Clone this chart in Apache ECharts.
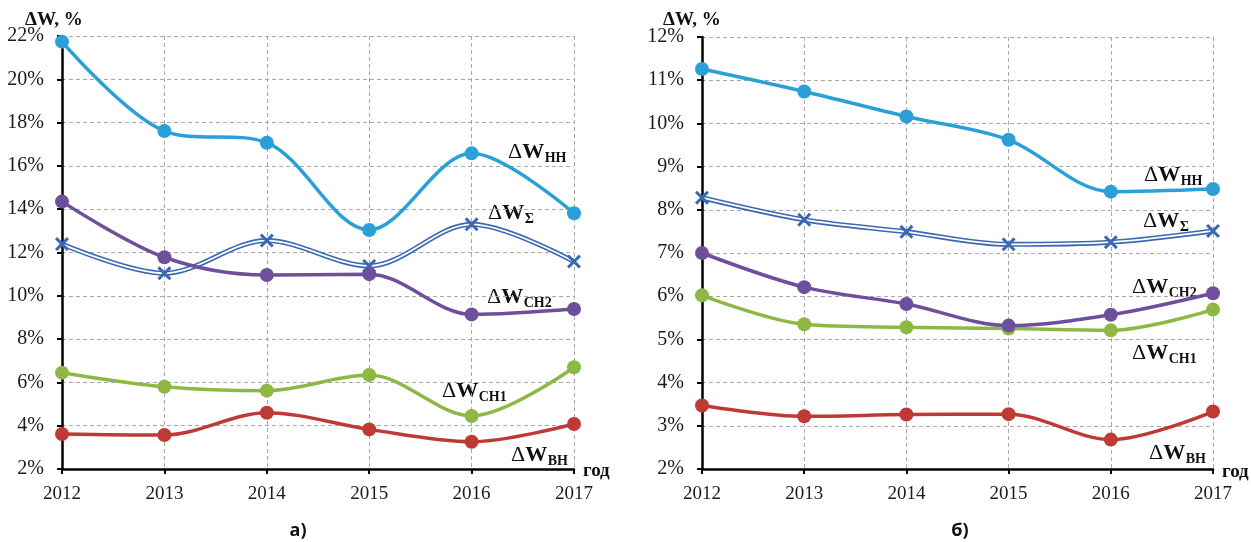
<!DOCTYPE html>
<html>
<head>
<meta charset="utf-8">
<script src="https://cdn.jsdelivr.net/npm/echarts@6/dist/echarts.min.js"></script>
<style>html,body{margin:0;padding:0;background:#fff;}#c{width:1251px;height:542px;}</style>
</head>
<body>
<div id="c"></div>
<script>
// ---- data ----
const years = ['2012', '2013', '2014', '2015', '2016', '2017'];
// chart a)
const nnA  = [21.74, 17.61, 17.07, 13.04, 16.58, 13.81];
const sumA = [12.39, 11.04, 12.55, 11.38, 13.30, 11.58];
const ch2A = [14.35, 11.78, 10.96, 11.00, 9.14, 9.39];
const ch1A = [6.45, 5.80, 5.62, 6.34, 4.45, 6.70];
const vnA  = [3.62, 3.57, 4.60, 3.83, 3.26, 4.08];
// chart б)
const nnB  = [11.26, 10.74, 10.16, 9.62, 8.42, 8.48];
const sumB = [8.28, 7.77, 7.49, 7.20, 7.25, 7.51];
const ch2B = [7.00, 6.21, 5.82, 5.32, 5.57, 6.07];
const ch1B = [6.02, 5.35, 5.28, 5.25, 5.21, 5.69];
const vnB  = [3.47, 3.22, 3.26, 3.27, 2.68, 3.33];
// axis ranges
const yRangeA = {min: 2, max: 22, interval: 2};
const yRangeB = {min: 2, max: 12, interval: 1};

const SERIF = "'Liberation Serif', 'Times New Roman', serif";
const C = {nn: '#2B9FD8', sum: '#3A69B2', ch2: '#6E4F9C', ch1: '#8DB843', vn: '#BE3B35'};
const CROSS = 'path://M0,1.5L1.5,0L5,3.5L8.5,0L10,1.5L6.5,5L10,8.5L8.5,10L5,6.5L1.5,10L0,8.5L3.5,5Z';
const SMOOTH = 0.33;

const chart = echarts.init(document.getElementById('c'), null, {renderer: 'canvas'});

function xAxis(gi) {
  return {
    type: 'category', gridIndex: gi, data: years, boundaryGap: false,
    axisLine: {show: true, lineStyle: {color: '#000', width: 2.5}},
    axisTick: {show: true, length: 5, lineStyle: {color: '#000', width: 2}},
    axisLabel: {fontFamily: SERIF, fontSize: 19, color: '#1a1a1a', margin: 16},
    splitLine: {show: true, lineStyle: {color: '#a8a8a8', type: [4, 3], width: 1}}
  };
}
function yAxis(gi, r) {
  return {
    type: 'value', gridIndex: gi, min: r.min, max: r.max, interval: r.interval,
    axisLine: {show: true, lineStyle: {color: '#000', width: 2.5}},
    axisTick: {show: true, length: 5, lineStyle: {color: '#000', width: 2}},
    axisLabel: {fontFamily: SERIF, fontSize: 20, color: '#1a1a1a', margin: 18, formatter: '{value}%'},
    splitLine: {show: true, lineStyle: {color: '#a8a8a8', type: [4, 3], width: 1}}
  };
}
function dotLine(gi, data, color) {
  return {
    type: 'line', xAxisIndex: gi, yAxisIndex: gi, data: data, smooth: SMOOTH,
    symbol: 'circle', symbolSize: 14, showSymbol: true,
    lineStyle: {color: color, width: 3.5}, itemStyle: {color: color}
  };
}
function sumLines(gi, data) {
  return [
    {type: 'line', xAxisIndex: gi, yAxisIndex: gi, data: data, smooth: SMOOTH,
     symbol: 'none', lineStyle: {color: C.sum, width: 5}},
    {type: 'line', xAxisIndex: gi, yAxisIndex: gi, data: data, smooth: SMOOTH,
     symbol: CROSS, symbolSize: 14, showSymbol: true,
     lineStyle: {color: '#ffffff', width: 1.8}, itemStyle: {color: C.sum}}
  ];
}

// text measuring for labels with subscripts
const ctx = document.createElement('canvas').getContext('2d');
function tw(font, s) { ctx.font = font; return ctx.measureText(s).width; }
const F_D = "22px " + SERIF;
const F_W = "bold 22px " + SERIF;
const F_S = "bold 14px " + SERIF;
function seriesLabel(x, y, sub) {
  const wd = tw(F_D, 'Δ');
  const ww = tw(F_W, 'W');
  return [
    {type: 'text', x: x, y: y, style: {text: 'Δ', font: F_D, fill: '#111', textVerticalAlign: 'middle'}},
    {type: 'text', x: x + wd, y: y, style: {text: 'W', font: F_W, fill: '#111', textVerticalAlign: 'middle'}},
    {type: 'text', x: x + wd + ww + 0.5, y: y + 6, style: {text: sub, font: F_S, fill: '#111', textVerticalAlign: 'middle'}}
  ];
}
function plainText(x, y, s, font, align) {
  return {type: 'text', x: x, y: y, style: {text: s, font: font, fill: '#111', textAlign: align || 'left', textVerticalAlign: 'middle'}};
}

const graphics = [].concat(
  plainText(25, 20, 'ΔW, %', 'bold 19px ' + SERIF),
  plainText(663, 20, 'ΔW, %', 'bold 19px ' + SERIF),
  plainText(583, 471, 'год', 'bold 19px ' + SERIF),
  plainText(1222, 472, 'год', 'bold 19px ' + SERIF),
  seriesLabel(508, 152, 'НН'),
  seriesLabel(488, 213, 'Σ'),
  seriesLabel(487, 297, 'СН2'),
  seriesLabel(442, 391, 'СН1'),
  seriesLabel(511, 455, 'ВН'),
  seriesLabel(1144, 175, 'НН'),
  seriesLabel(1143, 221, 'Σ'),
  seriesLabel(1132, 287, 'СН2'),
  seriesLabel(1132, 353, 'СН1'),
  seriesLabel(1149, 453, 'ВН'),
  plainText(298, 531, 'а)', "bold 18px 'Open Sans', sans-serif", 'center'),
  plainText(960, 531, 'б)', "bold 18px 'Open Sans', sans-serif", 'center')
);

const option = {
  animation: false,
  backgroundColor: '#ffffff',
  grid: [
    {left: 62, top: 36, width: 512, height: 433},
    {left: 702, top: 37, width: 511, height: 432}
  ],
  xAxis: [xAxis(0), xAxis(1)],
  yAxis: [yAxis(0, yRangeA), yAxis(1, yRangeB)],
  series: [].concat(
    sumLines(0, sumA),
    dotLine(0, vnA, C.vn),
    dotLine(0, ch1A, C.ch1),
    dotLine(0, ch2A, C.ch2),
    dotLine(0, nnA, C.nn),
    sumLines(1, sumB),
    dotLine(1, vnB, C.vn),
    dotLine(1, ch1B, C.ch1),
    dotLine(1, ch2B, C.ch2),
    dotLine(1, nnB, C.nn)
  ),
  graphic: graphics
};
chart.setOption(option);
</script>
</body>
</html>
